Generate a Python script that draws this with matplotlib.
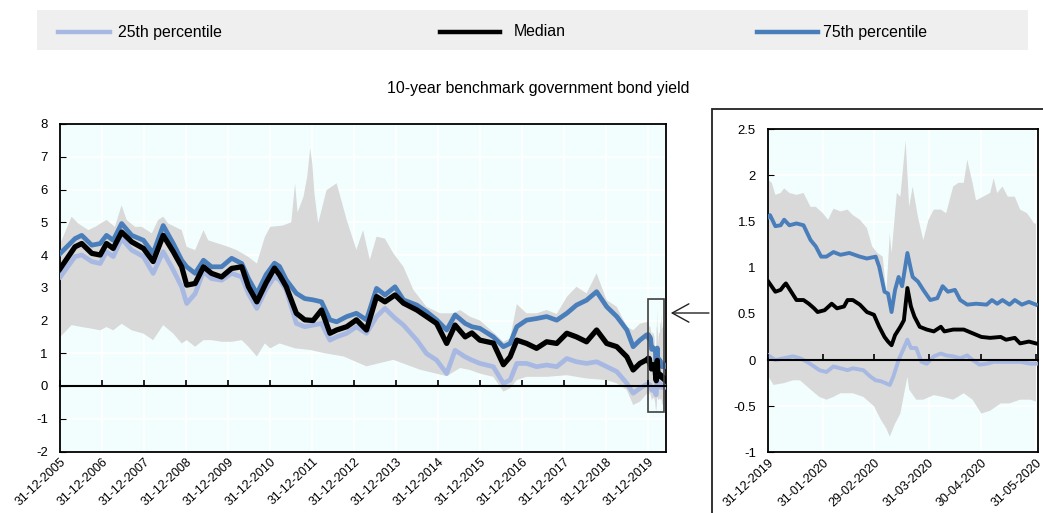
import matplotlib
matplotlib.use("Agg")
import matplotlib.dates as mdates
import matplotlib.pyplot as plt
import numpy as np
import pandas as pd
from matplotlib import font_manager
from matplotlib.lines import Line2D
from matplotlib.patches import FancyArrowPatch, Rectangle
from matplotlib.ticker import FormatStrFormatter

# the source uses a narrow Arial-like face; fall back to the regular one if missing
_installed = {f.name for f in font_manager.fontManager.ttflist}
if "Liberation Sans Narrow" in _installed:
    plt.rcParams["font.family"] = ["Liberation Sans Narrow", "DejaVu Sans"]
    FS = 1.0
else:
    plt.rcParams["font.family"] = ["Liberation Sans", "DejaVu Sans"]
    FS = 0.82
plt.rcParams["axes.unicode_minus"] = False

# long-run panel: x read as years after 31-12-2005
LONG_T = [0.00, 0.35, 0.51, 0.75, 0.95, 1.10, 1.26, 1.46, 1.70, 1.98,
          2.21, 2.45, 2.69, 2.89, 3.01, 3.21, 3.41, 3.60, 3.84, 4.08,
          4.32, 4.48, 4.68, 4.90, 5.10, 5.22, 5.38, 5.62, 5.82, 6.02,
          6.22, 6.42, 6.58, 6.82, 7.05, 7.29, 7.53, 7.73, 7.97, 8.17,
          8.49, 8.72, 8.96, 9.20, 9.40, 9.64, 9.80, 9.99, 10.31, 10.55,
          10.71, 10.87, 11.10, 11.34, 11.58, 11.82, 12.06, 12.29, 12.53, 12.77,
          13.01, 13.25, 13.49, 13.64, 13.80, 13.96]
LONG_P75 = [4.05, 4.50, 4.60, 4.30, 4.35, 4.60, 4.45, 4.96, 4.60, 4.45,
            4.05, 4.90, 4.35, 3.84, 3.64, 3.44, 3.84, 3.64, 3.64, 3.90,
            3.74, 3.28, 2.82, 3.40, 3.75, 3.65, 3.24, 2.83, 2.67, 2.63,
            2.57, 2.02, 1.96, 2.12, 2.22, 2.02, 2.98, 2.78, 3.03, 2.63,
            2.47, 2.27, 2.02, 1.71, 2.17, 1.91, 1.81, 1.76, 1.50, 1.20,
            1.30, 1.81, 2.01, 2.06, 2.12, 2.01, 2.22, 2.47, 2.62, 2.88,
            2.42, 2.12, 1.71, 1.20, 1.40, 1.56]
LONG_MED = [3.59, 4.25, 4.35, 4.05, 4.00, 4.35, 4.20, 4.70, 4.40, 4.20,
            3.80, 4.60, 4.10, 3.64, 3.08, 3.13, 3.64, 3.44, 3.33, 3.59,
            3.64, 3.03, 2.57, 3.15, 3.60, 3.39, 3.03, 2.22, 2.02, 2.00,
            2.32, 1.61, 1.71, 1.81, 2.02, 1.71, 2.73, 2.57, 2.78, 2.53,
            2.32, 2.12, 1.91, 1.30, 1.86, 1.50, 1.62, 1.40, 1.31, 0.65,
            0.89, 1.40, 1.30, 1.15, 1.35, 1.30, 1.61, 1.50, 1.35, 1.71,
            1.30, 1.20, 0.89, 0.49, 0.69, 0.80]
LONG_P25 = [3.33, 3.95, 4.00, 3.80, 3.74, 4.10, 3.95, 4.50, 4.15, 3.95,
            3.44, 4.10, 3.54, 3.03, 2.52, 2.82, 3.49, 3.28, 3.23, 3.44,
            3.33, 2.82, 2.37, 2.95, 3.34, 3.24, 2.93, 1.91, 1.81, 1.86,
            1.91, 1.40, 1.50, 1.61, 1.81, 1.61, 2.12, 2.37, 2.07, 1.86,
            1.40, 0.99, 0.79, 0.38, 1.09, 0.89, 0.79, 0.69, 0.59, 0.08,
            0.18, 0.69, 0.69, 0.59, 0.64, 0.59, 0.84, 0.74, 0.69, 0.74,
            0.59, 0.44, 0.08, -0.22, -0.07, 0.05]
LONG_MAX_T = [0.00, 0.27, 0.43, 0.67, 0.83, 1.10, 1.30, 1.46, 1.58, 1.78,
              1.94, 2.18, 2.33, 2.45, 2.57, 2.73, 2.89, 3.01, 3.21, 3.41,
              3.52, 3.76, 4.00, 4.20, 4.48, 4.68, 4.87, 5.00, 5.30, 5.50,
              5.59, 5.65, 5.79, 5.88, 5.95, 6.00, 6.05, 6.14, 6.34, 6.58,
              6.82, 7.05, 7.21, 7.37, 7.53, 7.73, 7.93, 8.17, 8.41, 8.72,
              9.04, 9.36, 9.52, 9.75, 9.99, 10.31, 10.55, 10.71, 10.87, 11.10,
              11.34, 11.58, 11.82, 12.06, 12.29, 12.53, 12.77, 13.01, 13.25, 13.49,
              13.64, 13.80, 13.96]
LONG_MAX = [4.35, 5.17, 4.96, 4.76, 4.86, 5.07, 4.86, 5.52, 5.07, 4.86,
            4.86, 4.66, 5.07, 5.17, 4.96, 4.86, 4.76, 4.25, 4.15, 4.76,
            4.45, 4.35, 4.25, 4.15, 3.94, 3.74, 4.55, 4.86, 4.90, 5.00,
            6.19, 5.30, 5.78, 6.40, 7.26, 6.80, 5.90, 4.97, 5.98, 6.19,
            5.07, 4.16, 4.76, 3.85, 4.56, 4.50, 4.05, 3.64, 2.93, 2.42,
            2.22, 2.22, 2.32, 2.12, 2.00, 1.64, 1.35, 1.45, 2.50, 2.22,
            2.22, 2.32, 2.20, 2.72, 3.03, 2.83, 3.44, 2.62, 2.42, 1.81,
            1.70, 1.90, 1.95]
LONG_MIN_T = [0.00, 0.27, 0.51, 0.75, 0.95, 1.10, 1.26, 1.46, 1.70, 1.98,
              2.21, 2.45, 2.69, 2.89, 3.01, 3.21, 3.41, 3.60, 3.84, 4.08,
              4.32, 4.48, 4.68, 4.87, 5.00, 5.22, 5.59, 5.95, 6.30, 6.75,
              7.29, 7.93, 8.56, 9.20, 9.52, 9.75, 9.99, 10.31, 10.55, 10.71,
              10.87, 11.10, 11.58, 12.06, 12.53, 13.01, 13.25, 13.49, 13.64, 13.80,
              13.96]
LONG_MIN = [1.50, 1.86, 1.80, 1.75, 1.70, 1.80, 1.70, 1.90, 1.70, 1.60,
            1.40, 1.86, 1.60, 1.30, 1.40, 1.20, 1.40, 1.40, 1.35, 1.35,
            1.40, 1.20, 0.90, 1.30, 1.15, 1.30, 1.15, 1.10, 1.00, 0.90,
            0.60, 0.80, 0.50, 0.30, 0.55, 0.49, 0.38, 0.28, -0.17, -0.07,
            0.18, 0.28, 0.28, 0.33, 0.23, 0.18, 0.08, -0.12, -0.58, -0.48,
            -0.25]

# 2020 panel: x read as days after 31-12-2019
Z_P75_D = [0, 1, 4, 7, 9, 12, 16, 20, 24, 27, 30, 33, 37, 41, 46, 52, 56, 61, 63, 66,
           68, 70, 72, 74, 76, 79, 81, 82, 85, 88, 92, 96, 99, 102, 106, 109, 113, 118,
           124, 127, 130, 133, 137, 140, 144, 148, 152]
Z_P75 = [1.55, 1.57, 1.45, 1.46, 1.52, 1.46, 1.48, 1.46, 1.30, 1.23, 1.12, 1.12, 1.17,
         1.14, 1.16, 1.12, 1.10, 1.12, 1.01, 0.74, 0.72, 0.52, 0.76, 0.90, 0.80, 1.16,
         0.98, 0.90, 0.85, 0.76, 0.65, 0.67, 0.80, 0.74, 0.76, 0.65, 0.60, 0.61, 0.60,
         0.65, 0.61, 0.65, 0.60, 0.65, 0.60, 0.63, 0.60]
Z_MED_D = [0, 4, 7, 9, 10, 13, 16, 20, 23, 26, 28, 32, 36, 39, 43, 45, 48, 52, 56, 60,
           63, 66, 68, 70, 72, 75, 77, 79, 81, 83, 86, 90, 94, 98, 100, 105, 111, 116,
           121, 126, 132, 135, 140, 143, 148, 152]
Z_MED = [0.85, 0.74, 0.76, 0.81, 0.83, 0.74, 0.65, 0.65, 0.61, 0.56, 0.52, 0.54, 0.61,
         0.56, 0.58, 0.65, 0.65, 0.60, 0.52, 0.49, 0.36, 0.25, 0.20, 0.16, 0.27, 0.36,
         0.43, 0.78, 0.58, 0.47, 0.36, 0.33, 0.31, 0.36, 0.31, 0.33, 0.33, 0.29, 0.25,
         0.24, 0.25, 0.22, 0.24, 0.18, 0.20, 0.18]
Z_P25_D = [0, 4, 9, 14, 18, 22, 26, 29, 33, 37, 41, 45, 48, 54, 58, 61, 64, 69, 71, 74,
           77, 79, 81, 84, 87, 90, 94, 98, 101, 105, 109, 113, 116, 120, 124, 128, 135,
           143, 149, 152]
Z_P25 = [0.05, 0.00, 0.02, 0.04, 0.02, -0.02, -0.07, -0.11, -0.13, -0.07, -0.09, -0.11,
         -0.09, -0.11, -0.18, -0.22, -0.23, -0.27, -0.18, 0.00, 0.13, 0.22, 0.13, 0.13,
         -0.02, -0.04, 0.04, 0.07, 0.05, 0.04, 0.02, 0.05, 0.00, -0.05, -0.04, -0.02,
         -0.02, -0.02, -0.04, -0.04]
Z_MAX_D = [0, 2, 4, 7, 9, 12, 16, 20, 24, 27, 31, 34, 37, 41, 45, 48, 52, 56, 59, 62,
           65, 67, 69, 70, 73, 75, 78, 80, 82, 85, 88, 91, 94, 98, 101, 105, 108, 111,
           113, 116, 118, 122, 126, 128, 130, 133, 136, 140, 143, 147, 151, 152]
Z_MAX = [1.95, 1.92, 1.79, 1.81, 1.86, 1.81, 1.79, 1.81, 1.66, 1.66, 1.59, 1.52, 1.64,
         1.61, 1.63, 1.57, 1.52, 1.43, 1.23, 1.16, 1.12, 0.72, 1.37, 1.16, 1.81, 1.77,
         2.38, 1.66, 1.88, 1.55, 1.30, 1.52, 1.63, 1.63, 1.59, 1.88, 1.92, 1.92, 2.17,
         1.92, 1.73, 1.77, 1.81, 1.97, 1.81, 1.88, 1.77, 1.77, 1.63, 1.59, 1.48, 1.48]
Z_MIN_D = [0, 3, 9, 14, 18, 24, 29, 33, 37, 41, 45, 48, 54, 60, 64, 67, 69, 72, 75, 79,
           80, 84, 88, 94, 99, 105, 111, 116, 121, 126, 132, 137, 143, 149, 152]
Z_MIN = [-0.18, -0.27, -0.25, -0.22, -0.22, -0.32, -0.40, -0.43, -0.40, -0.36, -0.36,
         -0.36, -0.40, -0.50, -0.65, -0.74, -0.83, -0.69, -0.58, -0.18, -0.32, -0.43,
         -0.43, -0.38, -0.40, -0.43, -0.36, -0.43, -0.58, -0.55, -0.47, -0.47, -0.43,
         -0.43, -0.45]

MAIN_TICKS = [f"{y}-12-31" for y in range(2005, 2020)]
ZOOM_TICKS = ["2019-12-31", "2020-01-31", "2020-02-29", "2020-03-31", "2020-04-30", "2020-05-31"]

C_BAND = "#d9d9d9"
C_P25 = "#a7b9e3"
C_P75 = "#4a7ebb"
C_MED = "#000000"
C_BG = "#f2fefe"


def from_years(t):
    return mdates.date2num(pd.Timestamp("2005-12-31") + pd.to_timedelta(np.asarray(t) * 365.25, unit="D"))


def from_days(d):
    return mdates.date2num(pd.Timestamp("2019-12-31") + pd.to_timedelta(np.asarray(d), unit="D"))


def style_axes(ax, ticks, yticks, ylim, xlim, zero_pos):
    ax.set_facecolor(C_BG)
    ax.set_xlim(*xlim)
    ax.set_ylim(*ylim)
    ax.set_yticks(yticks)
    ax.set_xticks(ticks)
    ax.xaxis.set_major_formatter(mdates.DateFormatter("%d-%m-%Y"))
    ax.yaxis.set_major_formatter(FormatStrFormatter("%g"))
    ax.grid(True, color="white", linewidth=1.3)
    ax.set_axisbelow(True)
    ax.tick_params(axis="x", length=0, pad=3, labelsize=11 * FS)
    ax.tick_params(axis="y", direction="in", length=4, pad=9, labelsize=11.5 * FS)
    for lab in ax.get_xticklabels():
        lab.set_rotation(43)
        lab.set_ha("right")
        lab.set_va("top")
        lab.set_rotation_mode("anchor")
    for sp in ax.spines.values():
        sp.set_linewidth(1.3)
    # zero line with small upward ticks
    zero = ax.secondary_xaxis(zero_pos)
    zero.set_zorder(8)
    zero.set_xticks(ticks)
    zero.tick_params(direction="in", length=4, width=1.2, color="black",
                     labelbottom=False, labeltop=False)
    for sp in zero.spines.values():
        sp.set_linewidth(1.5)
        sp.set_color("black")


fig = plt.figure(figsize=(10.43, 5.13), dpi=100)

# legend strip
fig.add_artist(Rectangle((37 / 1043, 1 - 50 / 513), 991 / 1043, 40 / 513,
                         transform=fig.transFigure, facecolor="#efefef", edgecolor="none"))
ly = 1 - 32 / 513
for x0, x1, tx, col, name in [(58, 110, 118, C_P25, "25th percentile"),
                              (440, 500, 514, C_MED, "Median"),
                              (757, 818, 823, C_P75, "75th percentile")]:
    fig.add_artist(Line2D([x0 / 1043, x1 / 1043], [ly, ly], transform=fig.transFigure,
                          color=col, linewidth=3.2))
    fig.text(tx / 1043, ly, name, fontsize=14 * FS, va="center", ha="left")

fig.text(538 / 1043, 1 - 89 / 513, "10-year benchmark government bond yield",
         fontsize=14 * FS, ha="center", va="center")

# main panel
ax = fig.add_axes([60.3 / 1043, 1 - 451.5 / 513, 605.4 / 1043, 327.5 / 513])
top_x = np.r_[from_years(LONG_MAX_T), from_days(Z_MAX_D)]
top_y = np.r_[LONG_MAX, Z_MAX]
bot_x = np.r_[from_years(LONG_MIN_T), from_days(Z_MIN_D)]
bot_y = np.r_[LONG_MIN, Z_MIN]
ax.fill(np.r_[top_x, bot_x[::-1]], np.r_[top_y, bot_y[::-1]], color=C_BAND, linewidth=0, zorder=1)
ax.plot(np.r_[from_years(LONG_T), from_days(Z_P25_D)], np.r_[LONG_P25, Z_P25], color=C_P25, lw=3.4, zorder=3)
ax.plot(np.r_[from_years(LONG_T), from_days(Z_P75_D)], np.r_[LONG_P75, Z_P75], color=C_P75, lw=3.4, zorder=4)
ax.plot(np.r_[from_years(LONG_T), from_days(Z_MED_D)], np.r_[LONG_MED, Z_MED], color=C_MED, lw=3.8, zorder=5)
box_x0 = mdates.date2num(pd.Timestamp("2019-12-31"))
box_x1 = mdates.date2num(pd.Timestamp("2020-05-20"))
ax.add_patch(Rectangle((box_x0, -0.8), box_x1 - box_x0, 3.45, fill=False,
                       edgecolor="#404040", linewidth=1.2, zorder=6))
style_axes(ax, mdates.date2num(pd.to_datetime(MAIN_TICKS)), range(-2, 9), (-2, 8),
           (mdates.date2num(pd.Timestamp("2005-12-31")), mdates.date2num(pd.Timestamp("2020-05-31"))),
           0.2)

# 2020 panel
ax2 = fig.add_axes([768.3 / 1043, 1 - 452.3 / 513, 269.4 / 1043, 323 / 513])
zt_x = from_days(Z_MAX_D)
zb_x = from_days(Z_MIN_D)
ax2.fill(np.r_[zt_x, zb_x[::-1]], np.r_[Z_MAX, Z_MIN[::-1]], color=C_BAND, linewidth=0, zorder=1)
ax2.plot(from_days(Z_P25_D), Z_P25, color=C_P25, lw=2.8, zorder=3)
ax2.plot(from_days(Z_P75_D), Z_P75, color=C_P75, lw=2.8, zorder=4)
ax2.plot(from_days(Z_MED_D), Z_MED, color=C_MED, lw=2.8, zorder=5)
style_axes(ax2, mdates.date2num(pd.to_datetime(ZOOM_TICKS)), np.arange(-1, 2.51, 0.5), (-1, 2.5),
           (mdates.date2num(pd.Timestamp("2019-12-31")), mdates.date2num(pd.Timestamp("2020-06-01"))),
           1 / 3.5)

# frame around the zoom panel and pointer arrow
fig.add_artist(Rectangle((711.7 / 1043, -0.1), 0.5, 1 - 109 / 513 + 0.1, transform=fig.transFigure,
                         fill=False, edgecolor="#222222", linewidth=1.3))
fig.add_artist(FancyArrowPatch((711.7 / 1043, 1 - 313 / 513), (668 / 1043, 1 - 313 / 513),
                               transform=fig.transFigure, arrowstyle="->,head_length=0.6,head_width=0.33",
                               mutation_scale=20, color="#222222", linewidth=1.0))

fig.savefig("out.png", dpi=100)
